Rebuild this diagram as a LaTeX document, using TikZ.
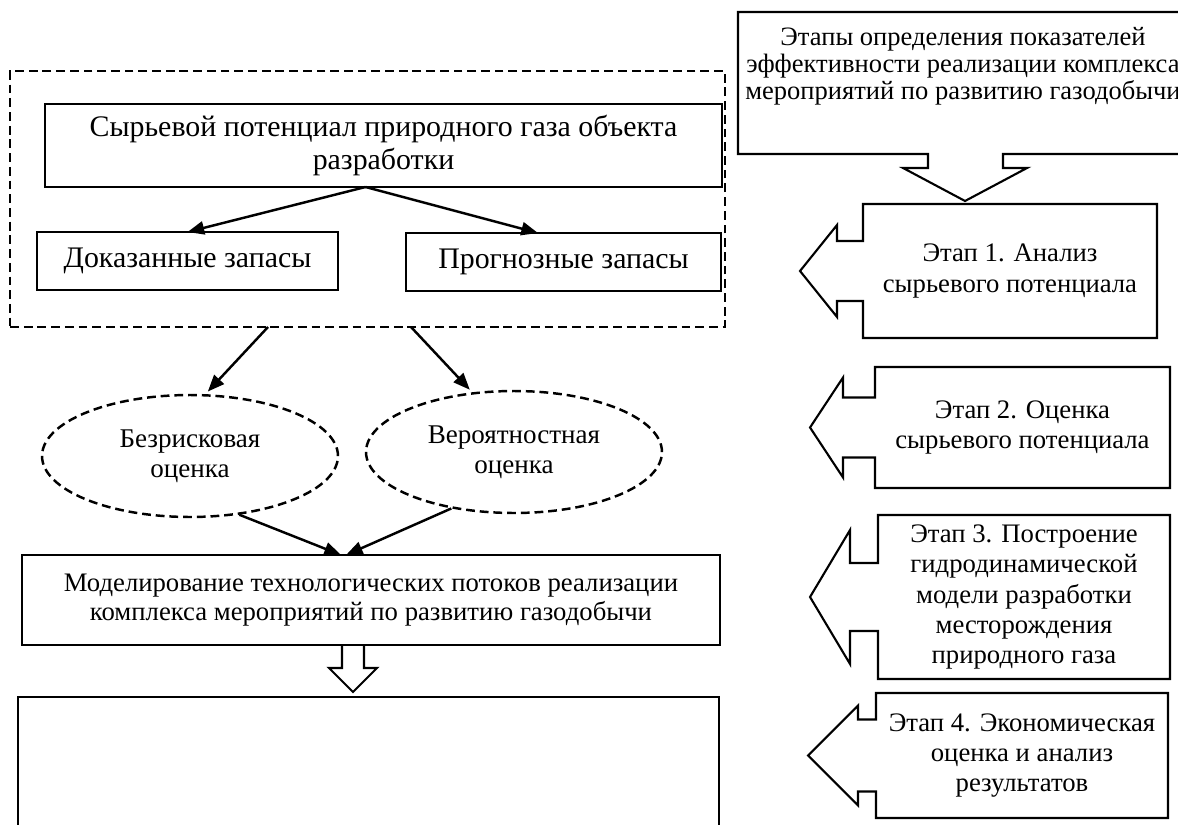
\documentclass[tikz,border=0pt]{standalone}
\usepackage{fontspec}
\setmainfont{Liberation Serif}
\usetikzlibrary{arrows.meta,shapes.geometric,calc}
\newcommand{\stagearrow}[5]{
  \draw[outline] (#1.west) ++(0,-#4) -- ++(-#2,0) -- ++(0,{#4-#5}) -- ++(-#3,#5) -- ++(#3,#5)
    -- ++(0,{#4-#5}) -- ++(#2,0) -- (#1.south west) -- (#1.south east) -- (#1.north east) -- (#1.north west) -- cycle;
}
\tikzset{
  box/.style={draw, line width=1.3pt, align=center, inner sep=0pt, outer sep=0pt},
  bigtext/.style={font=\fontsize{17}{18.5}\selectfont},
  midtext/.style={font=\fontsize{15.2}{16.5}\selectfont},
  stagebox/.style={align=center, inner sep=0pt, outer sep=0pt, font=\fontsize{15.2}{17.3}\selectfont},
  outline/.style={line width=1.2pt, line join=miter},
  oval/.style={ellipse, draw, dashed, dash pattern=on 5pt off 2.8pt, line width=1.4pt, inner sep=0pt, align=center,
    minimum width=5.92cm, minimum height=2.44cm, font=\fontsize{15.4}{17}\selectfont},
  arr/.style={-{Triangle[length=9.5pt,width=7.5pt]}, line width=1.4pt}
}
\begin{document}
\begin{tikzpicture}[x=0.02cm, y=-0.02cm]
  \useasboundingbox (0,0) rectangle (1178,825);
  \clip (0,0) rectangle (1178,825);
  \node[box, dashed, dash pattern=on 5pt off 2.8pt, line width=1.4pt, minimum width=14.3cm, minimum height=5.12cm] (group) at (367.5,199) {};
  \node[box, bigtext, minimum width=13.54cm, minimum height=1.66cm] (potential) at (383.5,145.5) {Сырьевой потенциал природного газа объекта\\разработки};
  \node[box, bigtext, minimum width=6.02cm, minimum height=1.16cm] (proven) at (187.5,261) {Доказанные запасы};
  \node[box, bigtext, minimum width=6.3cm, minimum height=1.16cm] (forecast) at (563.5,262) {Прогнозные запасы};
  \draw[arr] ([xshift=-0.36cm]potential.south) -- (proven.north);
  \draw[arr] ([xshift=-0.36cm]potential.south) -- ([xshift=-0.51cm]forecast.north);
  \node[oval] (riskfree) at (190,456) {Безрисковая\\оценка};
  \node[oval] (probab) at (514,452) {Вероятностная\\оценка};
  \draw[arr, shorten >=2pt] ([xshift=-1.99cm]group.south) -- (riskfree.76);
  \draw[arr, shorten >=2pt] ([xshift=0.87cm]group.south) -- (probab.125);
  \node[box, midtext, minimum width=13.96cm, minimum height=1.8cm] (model) at (371,600) {Моделирование технологических потоков реализации\\комплекса мероприятий по развитию газодобычи};
  \draw[arr] (riskfree.-50) -- ([xshift=-0.6cm]model.north);
  \draw[arr] (probab.-138) -- ([xshift=-0.5cm]model.north);
  \draw[outline] ($(model.south)+(-29,0)$) -- ++(0,23) -- ++(-13,0) -- ++(24,24) -- ++(24,-24) -- ++(-13,0) -- ++(0,-23);
  \node[box, minimum width=14.02cm, minimum height=3.26cm] (result) at (368.5,778.5) {};
  \node[inner sep=0pt, outer sep=0pt, minimum width=9.24cm, minimum height=2.84cm] (title) at (969,83) {};
  \draw[outline] (title.south west) -- (title.north west) -- (title.north east) -- (title.south east)
    -- ($(title.south west)+(265,0)$) -- ++(0,14) -- ++(24,0) -- ++(-62,33) -- ++(-62,-33) -- ++(25,0) -- ++(0,-14) -- cycle;
  \node[align=center, inner sep=0pt, font=\fontsize{15.1}{15.4}\selectfont] (titletext) at (963,66) {Этапы определения показателей\\эффективности реализации комплекса\\мероприятий по развитию газодобычи};
  \node[stagebox, minimum width=5.88cm, minimum height=2.68cm] (st1) at (1010,271) {Этап 1. Анализ\\сырьевого потенциала};
  \node[stagebox, minimum width=5.9cm, minimum height=2.42cm] (st2) at (1022.5,427.5) {Этап 2. Оценка\\сырьевого потенциала};
  \node[stagebox, minimum width=5.84cm, minimum height=3.28cm] (st3) at (1024,597) {Этап 3. Построение\\гидродинамической\\модели разработки\\месторождения\\природного газа};
  \node[stagebox, minimum width=5.84cm, minimum height=2.5cm] (st4) at (1022,755.5) {Этап 4. Экономическая\\оценка и анализ\\результатов};
  \stagearrow{st1}{26}{37}{30}{46}
  \stagearrow{st2}{32}{33}{30}{50}
  \stagearrow{st3}{28}{40}{34}{67}
  \stagearrow{st4}{18}{50}{36}{50}
\end{tikzpicture}
\end{document}
